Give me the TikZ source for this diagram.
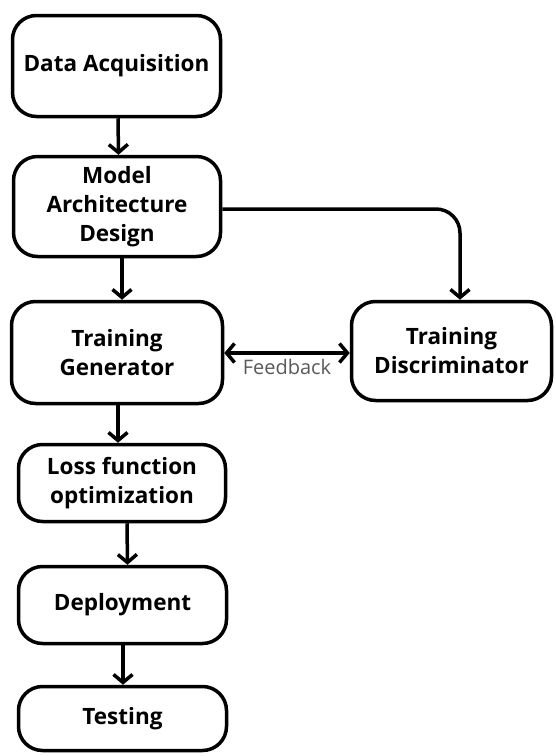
\documentclass[tikz,border=0pt]{standalone}
\usepackage{fontspec}
\setmainfont{Open Sans}
\usetikzlibrary{arrows.meta}
\begin{document}
\begin{tikzpicture}[x=1pt,y=-1pt,
  box/.style={draw=black, line width=3.5pt, rounded corners=24pt, align=center,
    font=\fontsize{22.5}{29}\selectfont\bfseries, inner sep=0pt},
  arr/.style={line width=3.5pt, -{Straight Barb[length=8pt,width=19pt,line width=3.5pt]}},
  arr2/.style={line width=3.5pt, {Straight Barb[length=8pt,width=19pt,line width=3.5pt]}-{Straight Barb[length=8pt,width=19pt,line width=3.5pt]}}]
\useasboundingbox (0,0) rectangle (555,756);
\node[box, minimum width=208pt, minimum height=101pt] (n1) at (116.5,66) {Data Acquisition};
\node[box, minimum width=207pt, minimum height=100pt] (n2) at (117,206.5) {Model\\Architecture\\Design};
\node[box, minimum width=211pt, minimum height=102pt] (n3) at (117,352.5) {Training\\Generator};
\node[box, minimum width=200pt, minimum height=99pt] (n4) at (451.5,351) {Training\\Discriminator};
\node[box, minimum width=207pt, minimum height=77pt] (n5) at (122,483) {Loss function\\optimization};
\node[box, minimum width=208pt, minimum height=77pt] (n6) at (122.5,605) {Deployment};
\node[box, minimum width=208pt, minimum height=64pt] (n7) at (122.5,718.5) {Testing};
\draw[arr] ([xshift=1.5pt]n1.south) -- ([xshift=1.5pt]n2.north);
\draw[arr] ([xshift=5pt]n2.south) -- ([xshift=5pt]n3.north);
\draw[arr] ([xshift=1pt]n3.south) -- ([xshift=1pt]n3.south |- n5.north);
\draw[arr] ([xshift=5pt]n5.south) -- ([xshift=5pt]n6.north);
\draw[arr] ([xshift=0.5pt]n6.south) -- ([xshift=0.5pt]n7.north);
\draw[arr, rounded corners=24pt] ([yshift=-2.5pt]n2.east) -| ([xshift=8.5pt]n4.north);
\draw[arr2] ([yshift=-0.5pt]n3.east) -- ([yshift=-0.5pt]n3.east -| n4.west)
  node[midway, below=1pt, text=black!65, font=\fontsize{20}{22}\selectfont] (fb) {Feedback};
\end{tikzpicture}
\end{document}
